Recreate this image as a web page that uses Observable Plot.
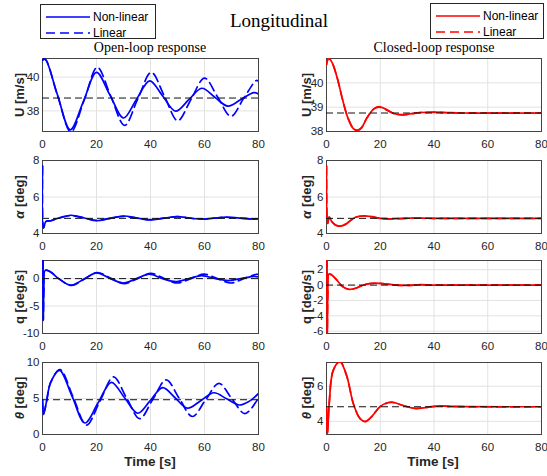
<!DOCTYPE html>
<html><head><meta charset="utf-8">
<script src="https://cdn.jsdelivr.net/npm/d3@7"></script>
<script src="https://cdn.jsdelivr.net/npm/@observablehq/plot@0.6"></script>
<style>
body{margin:0;background:#fff;}
#fig{position:relative;width:547px;height:476px;background:#fff;overflow:hidden;font-family:"Liberation Sans",Arial,sans-serif;color:#262626}
.svgpanel{position:absolute}
.title{position:absolute;font-family:"Liberation Serif",serif;font-size:19px;color:#000;transform:translate(-50%,-50%);white-space:nowrap}
.sub{position:absolute;font-family:"Liberation Serif",serif;font-size:14px;color:#000;transform:translate(-50%,-50%);white-space:nowrap}
.ylab{position:absolute;font-weight:bold;font-size:13px;color:#262626;transform:translate(-50%,-50%) rotate(-90deg);white-space:nowrap}
.xlab{position:absolute;font-weight:bold;font-size:13.5px;color:#262626;transform:translate(-50%,-50%);white-space:nowrap}
.legend{position:absolute;border:1px solid #262626;background:#fff;box-sizing:border-box}
.legend .row{position:absolute;left:0;display:flex;align-items:center;font-size:12px;color:#000;white-space:nowrap}
</style></head><body><div id="fig"></div><script>
// ---------- data ----------
const xTicks = [0, 20, 40, 60, 80];
const uTrim = 38.76, alphaTrim = 4.83, qTrim = 0, thetaTrim = 4.83;

const uOpenDomain = [36.78, 41.1], uOpenTicks = [38, 40];
const uClosedDomain = [38, 41], uClosedTicks = [38, 39, 40];
const alphaDomain = [4, 8], alphaTicks = [4, 6, 8];
const qOpenDomain = [-10, 3.3], qOpenTicks = [-10, -5, 0];
const qClosedDomain = [-6.3, 3.2], qClosedTicks = [-6, -4, -2, 0, 2];
const thetaOpenDomain = [0, 10], thetaOpenTicks = [0, 5, 10];
const thetaClosedDomain = [3.25, 7.35], thetaClosedTicks = [4, 6];

// U open loop
const uOpenNlT = [0, 1, 5.5, 10.3, 15.2, 20, 25, 30, 34.8, 39.7, 44.5, 49.3, 54.2, 59, 63.8, 68.7, 73.5, 78.3, 80];
const uOpenNlV = [41.0, 41.05, 38.97, 36.88, 38.58, 40.28, 38.93, 37.58, 38.68, 39.78, 38.88, 37.98, 38.66, 39.34, 38.81, 38.28, 38.68, 39.08, 39.0];
const uOpenLinT = [0, 1, 5.6, 10.5, 15.5, 20.3, 25.3, 30.4, 35.3, 40.3, 45.2, 50.1, 55, 60, 64.9, 69.8, 74.5, 79.2, 80];
const uOpenLinV = [41.0, 41.05, 38.9, 36.75, 38.67, 40.58, 38.86, 37.14, 38.71, 40.28, 38.85, 37.42, 38.68, 39.94, 38.81, 37.68, 38.74, 39.8, 39.75];
// U closed loop
const uClosedT = [0, 0.8, 2, 4, 6, 8, 10, 11.5, 13, 15, 17.5, 19.5, 22, 25, 28, 31, 35, 40, 45, 50, 80];
const uClosedNlV = [40.75, 41.0, 40.85, 40.2, 39.3, 38.55, 38.12, 38.05, 38.15, 38.55, 38.92, 39.02, 38.92, 38.74, 38.68, 38.72, 38.78, 38.8, 38.78, 38.76, 38.76];
const uClosedLinV = [40.75, 41.0, 40.85, 40.2, 39.3, 38.55, 38.12, 38.05, 38.15, 38.55, 38.92, 39.0, 38.9, 38.74, 38.69, 38.72, 38.78, 38.79, 38.77, 38.76, 38.76];
// alpha open loop
const alphaOpenT = [0, 0.4, 1.2, 3, 5.5, 10.5, 15.5, 20, 25, 30, 35, 40, 45, 50, 54.5, 59, 63.5, 68, 73, 78, 80];
const alphaOpenNlV = [7.7, 4.3, 4.65, 4.7, 4.82, 5.0, 4.85, 4.7, 4.83, 4.96, 4.85, 4.74, 4.84, 4.93, 4.85, 4.78, 4.84, 4.9, 4.84, 4.79, 4.8];
const alphaOpenLinV = [7.7, 4.3, 4.65, 4.7, 4.82, 4.98, 4.85, 4.72, 4.83, 4.94, 4.84, 4.76, 4.84, 4.92, 4.84, 4.79, 4.84, 4.89, 4.84, 4.8, 4.81];
// alpha closed loop
const alphaClosedT = [0, 0.45, 1, 2, 3.5, 5, 7, 9, 11, 14, 17, 20, 23, 27, 32, 36, 40, 80];
const alphaClosedNlV = [7.7, 4.55, 4.9, 4.65, 4.45, 4.4, 4.5, 4.72, 4.9, 4.97, 4.92, 4.83, 4.8, 4.82, 4.85, 4.84, 4.83, 4.83];
const alphaClosedLinV = [7.7, 4.55, 4.9, 4.65, 4.45, 4.4, 4.5, 4.72, 4.9, 4.96, 4.91, 4.83, 4.8, 4.82, 4.84, 4.84, 4.83, 4.83];
// q open loop
const qOpenNlT = [0.2, 0.3, 0.5, 1, 3, 6, 10.5, 15.5, 20, 25, 29.8, 34.8, 39.5, 44.5, 49.3, 54.2, 59, 64, 68.7, 73.5, 78.5, 80];
const qOpenNlV = [3.5, -7.6, -2, 1.5, 1.2, 0, -1.2, -0.05, 1.05, 0.05, -0.8, 0, 0.8, 0, -0.55, 0, 0.55, 0, -0.35, 0, 0.4, 0.3];
const qOpenLinT = [0.2, 0.3, 0.5, 1, 3, 6, 10.7, 15.6, 20.3, 25.3, 30.3, 35.2, 40.2, 45.1, 50, 54.9, 59.8, 64.8, 69.8, 74.5, 79.3, 80];
const qOpenLinV = [3.5, -7.6, -2, 1.5, 1.2, 0, -1.25, -0.05, 1.1, 0.05, -0.9, 0, 0.95, 0, -0.8, 0, 0.8, 0, -0.8, 0, 0.8, 0.75];
// q closed loop
const qClosedT = [0.2, 0.3, 0.5, 0.9, 2, 4, 6, 8.5, 11, 14, 18, 22, 26, 30, 35, 40, 80];
const qClosedNlV = [3.5, -6.5, -1, 1.45, 1.3, 0.6, -0.2, -0.55, -0.4, 0.05, 0.25, 0.15, 0.0, -0.05, 0.05, 0, 0];
const qClosedLinV = [3.5, -6.5, -1, 1.45, 1.3, 0.6, -0.2, -0.55, -0.4, 0.05, 0.24, 0.14, 0.0, -0.04, 0.04, 0, 0];
// theta open loop
const thetaOpenNlT = [0, 0.4, 1.5, 3, 6.3, 11, 15.7, 20.6, 25.5, 30.4, 35.3, 39.9, 44.5, 49.1, 53.7, 58.6, 63.5, 68.2, 72.8, 76.5, 80];
const thetaOpenNlV = [4.8, 2.8, 4.6, 7.2, 8.9, 5.25, 1.6, 4.4, 7.25, 5.1, 2.95, 4.7, 6.5, 5.1, 3.65, 4.7, 5.8, 4.95, 4.1, 4.6, 5.7];
const thetaOpenLinT = [0, 0.4, 1.5, 3, 6.5, 11.4, 16.3, 21.3, 26.3, 31.1, 36, 40.9, 45.8, 50.6, 55.5, 60.4, 65.3, 70.1, 75, 80];
const thetaOpenLinV = [4.8, 2.8, 4.6, 7.2, 9.0, 5.15, 1.3, 4.65, 8.0, 5.1, 2.2, 4.9, 7.6, 5.05, 2.5, 4.8, 7.1, 5.0, 2.9, 5.1];
// theta closed loop
const thetaClosedT = [0, 0.35, 1, 2.5, 5, 7.5, 10, 12.5, 14.5, 17, 20, 24, 28.5, 33, 37.5, 42, 47, 80];
const thetaClosedNlV = [4.8, 3.3, 5.0, 6.9, 7.4, 6.6, 5.0, 4.15, 3.98, 4.3, 4.85, 5.1, 4.9, 4.73, 4.8, 4.88, 4.85, 4.83];
const thetaClosedLinV = [4.8, 3.3, 5.0, 6.9, 7.4, 6.6, 5.0, 4.15, 4.0, 4.3, 4.84, 5.08, 4.9, 4.74, 4.8, 4.87, 4.84, 4.83];

// ---------- layout ----------
const rows = (t, v) => t.map((d, i) => ({t: d, v: v[i]}));
const fig = document.getElementById("fig");
const BLUE = "#0000ff", RED = "#ff0000";
const rowTop = [58, 160, 260, 362];
const rowH = [73, 73, 73, 72];
const cols = [
  {left: 0, mLeft: 42, w: 216, mRight: 8, labX: 19},
  {left: 280, mLeft: 46, w: 215, mRight: 6, labX: 306}
];

const panels = [
  {c:0, r:0, domain:uOpenDomain, ticks:uOpenTicks, trim:uTrim, color:BLUE, nl:rows(uOpenNlT,uOpenNlV), lin:rows(uOpenLinT,uOpenLinV), label:"U [m/s]"},
  {c:1, r:0, domain:uClosedDomain, ticks:uClosedTicks, trim:uTrim, color:RED, nl:rows(uClosedT,uClosedNlV), lin:rows(uClosedT,uClosedLinV), label:"U [m/s]"},
  {c:0, r:1, domain:alphaDomain, ticks:alphaTicks, trim:alphaTrim, color:BLUE, nl:rows(alphaOpenT,alphaOpenNlV), lin:rows(alphaOpenT,alphaOpenLinV), label:"<i>α</i> [deg]"},
  {c:1, r:1, domain:alphaDomain, ticks:alphaTicks, trim:alphaTrim, color:RED, nl:rows(alphaClosedT,alphaClosedNlV), lin:rows(alphaClosedT,alphaClosedLinV), label:"<i>α</i> [deg]"},
  {c:0, r:2, domain:qOpenDomain, ticks:qOpenTicks, trim:qTrim, color:BLUE, nl:rows(qOpenNlT,qOpenNlV), lin:rows(qOpenLinT,qOpenLinV), label:"q [deg/s]"},
  {c:1, r:2, domain:qClosedDomain, ticks:qClosedTicks, trim:qTrim, color:RED, nl:rows(qClosedT,qClosedNlV), lin:rows(qClosedT,qClosedLinV), label:"q [deg/s]"},
  {c:0, r:3, domain:thetaOpenDomain, ticks:thetaOpenTicks, trim:thetaTrim, color:BLUE, nl:rows(thetaOpenNlT,thetaOpenNlV), lin:rows(thetaOpenLinT,thetaOpenLinV), label:"<i>θ</i> [deg]"},
  {c:1, r:3, domain:thetaClosedDomain, ticks:thetaClosedTicks, trim:thetaTrim, color:RED, nl:rows(thetaClosedT,thetaClosedNlV), lin:rows(thetaClosedT,thetaClosedLinV), label:"<i>θ</i> [deg]"}
];

const mTop = 6, mBottom = 22;
for (const p of panels) {
  const col = cols[p.c];
  const h = rowH[p.r];
  const svg = Plot.plot({
    width: col.mLeft + col.w + col.mRight,
    height: mTop + h + mBottom,
    marginLeft: col.mLeft, marginRight: col.mRight, marginTop: mTop, marginBottom: mBottom,
    style: {fontFamily: "'Liberation Sans', Arial, sans-serif", fontSize: "11.5px", color: "#262626", background: "transparent", overflow: "visible"},
    x: {domain: [0, 80], ticks: xTicks, tickSize: 0, tickPadding: 8, label: null, tickFormat: d => String(d)},
    y: {domain: p.domain, ticks: p.ticks, tickSize: 0, tickPadding: 3, label: null, tickFormat: d => String(d)},
    marks: [
      Plot.ruleX(xTicks, {stroke: "#e2e2e2", strokeWidth: 1}),
      Plot.ruleY(p.ticks, {stroke: "#e2e2e2", strokeWidth: 1}),
      Plot.frame({stroke: "#444", strokeWidth: 1}),
      Plot.line(p.nl, {x: "t", y: "v", stroke: p.color, strokeWidth: 1.7, curve: "catmull-rom", clip: true}),
      Plot.line(p.lin, {x: "t", y: "v", stroke: p.color, strokeWidth: 1.7, strokeDasharray: "9,5", curve: "catmull-rom", clip: true}),
      Plot.ruleY([p.trim], {stroke: "#111", strokeWidth: 1, strokeDasharray: "7,4"})
    ]
  });
  svg.classList.add("svgpanel");
  svg.style.left = col.left + "px";
  svg.style.top = (rowTop[p.r] - mTop) + "px";
  fig.appendChild(svg);

  const lab = document.createElement("div");
  lab.className = "ylab";
  lab.innerHTML = p.label;
  lab.style.left = col.labX + "px";
  lab.style.top = (rowTop[p.r] + h / 2) + "px";
  fig.appendChild(lab);
}

// titles
function addDiv(cls, html, x, y) {
  const d = document.createElement("div");
  d.className = cls; d.innerHTML = html;
  d.style.left = x + "px"; d.style.top = y + "px";
  fig.appendChild(d); return d;
}
addDiv("title", "Longitudinal", 279, 21);
addDiv("sub", "Open-loop response", 150, 48);
addDiv("sub", "Closed-loop response", 434, 48);
addDiv("xlab", "Time [s]", 150, 461);
addDiv("xlab", "Time [s]", 433, 461);

// legends
function legend(x, y, w, h, color) {
  const box = document.createElement("div");
  box.className = "legend";
  Object.assign(box.style, {left: x + "px", top: y + "px", width: w + "px", height: h + "px"});
  const items = [["Non-linear", null], ["Linear", "9,5"]];
  items.forEach(([name, dash], i) => {
    const row = document.createElement("div");
    row.className = "row";
    row.style.top = (i === 0 ? 4 : 20) + "px";
    row.style.height = "16px";
    row.innerHTML = `<svg width="52" height="16" style="display:block"><line x1="5" x2="49" y1="8" y2="8" stroke="${color}" stroke-width="1.7" ${dash ? `stroke-dasharray="${dash}"` : ""}/></svg><span>${name}</span>`;
    box.appendChild(row);
  });
  fig.appendChild(box);
}
legend(40, 4, 116, 35, BLUE);
legend(430, 3, 114, 36, RED);
</script></body></html>
